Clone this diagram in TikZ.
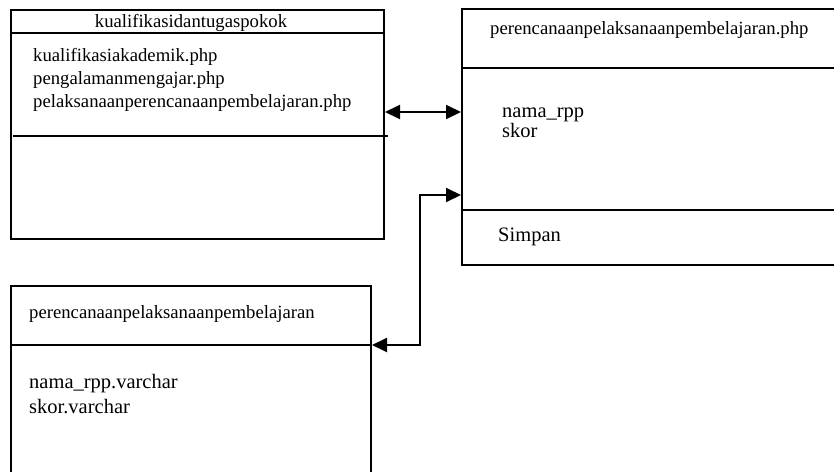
\documentclass[tikz,border=0pt]{standalone}
\usepackage{fontspec}
\setmainfont{Liberation Serif}
\usetikzlibrary{arrows.meta}
\begin{document}
\begin{tikzpicture}[x=1pt,y=-1pt,
  boxline/.style={line width=2pt},
  conn/.style={line width=2pt,{Triangle[length=15pt,width=14pt]}-{Triangle[length=15pt,width=14pt]}},
  small/.style={inner sep=0pt,anchor=base west,font=\fontsize{18.7}{22}\selectfont},
  big/.style={inner sep=0pt,anchor=base west,font=\fontsize{20.5}{24}\selectfont},
  frame/.style={draw,line width=2pt,inner sep=0pt,anchor=north west}]
\useasboundingbox (0,0) rectangle (834,471);
\begin{scope}
\clip (0,0) rectangle (834,471);
% left top box
\node[frame,minimum width=373pt,minimum height=229pt] (ka) at (10,9) {};
\draw[boxline] (ka.west |- 0,33) -- (ka.east |- 0,33);
\coordinate (kl1) at (13,136);
\coordinate (kl2) at (388,136);
\draw[boxline] (kl1) -- (kl2);
\node[small,anchor=base] (kah) at (191,27) {kualifikasidantugaspokok};
\node[small] (ka1) at (33,61) {kualifikasiakademik.php};
\node[small] (ka2) at (33,84) {pengalamanmengajar.php};
\node[small] (ka3) at (33,107) {pelaksanaanperencanaanpembelajaran.php};
% right box
\node[frame,minimum width=390pt,minimum height=256pt] (rp) at (461,8) {};
\draw[boxline] (rp.west |- 0,68) -- (rp.east |- 0,68);
\draw[boxline] (rp.west |- 0,210) -- (rp.east |- 0,210);
\node[small] (rph) at (490,34) {perencanaanpelaksanaanpembelajaran.php};
\node[big] (rp1) at (502,117) {nama\_rpp};
\node[big] (rp2) at (502,137) {skor};
\node[big] (rp3) at (498,241) {Simpan};
% bottom box
\node[frame,minimum width=360pt,minimum height=200pt] (db) at (10,285) {};
\draw[boxline] (db.west |- 0,345) -- (db.east |- 0,345);
\node[small] (dbh) at (29,318) {perencanaanpelaksanaanpembelajaran};
\node[big] (db1) at (29,388) {nama\_rpp.varchar};
\node[big] (db2) at (29,413) {skor.varchar};
% connectors
\draw[conn] (ka.east |- 0,112) -- (rp.west |- 0,112);
\coordinate (c1) at (420,195);
\coordinate (c2) at (420,345);
\draw[conn] (rp.west |- c1) -- (c1) -- (c2) -- (db.east |- c2);
\end{scope}
\end{tikzpicture}
\end{document}
